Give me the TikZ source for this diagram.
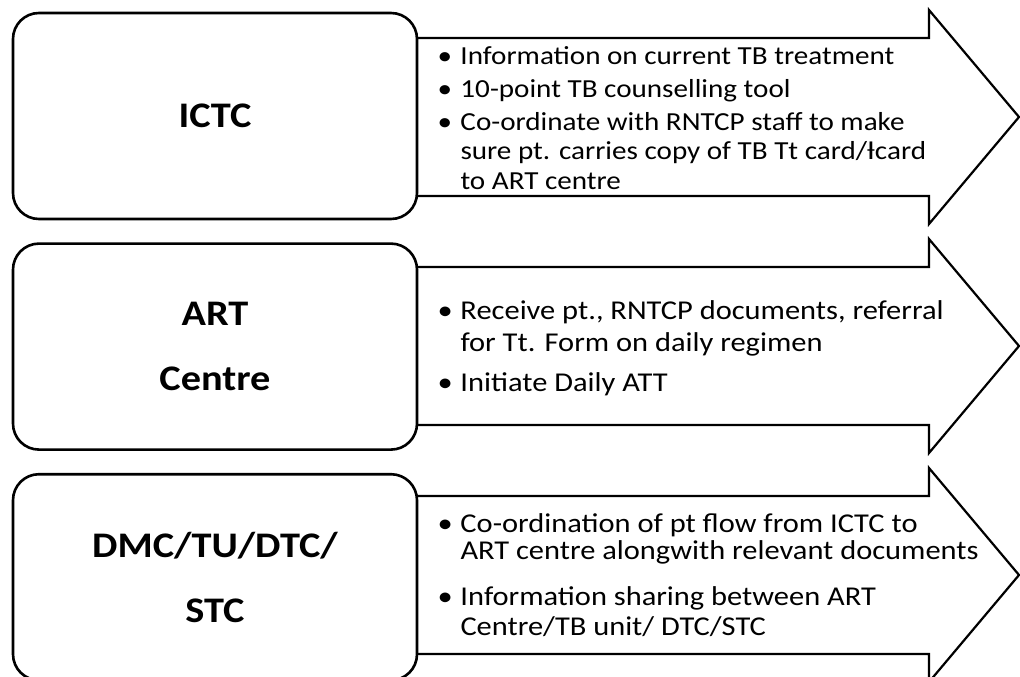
\documentclass[tikz,border=0pt]{standalone}
\usepackage{fontspec}
\setmainfont{Carlito}[FakeStretch=1.12]
\usetikzlibrary{positioning}

\tikzset{
  centrebox/.style={draw, line width=2.6pt, rounded corners=26pt, fill=white,
    minimum width=404pt, minimum height=206pt, align=center,
    font=\fontsize{36}{65}\selectfont\bfseries},
  flowarrow/.style={draw, line width=2.2pt, fill=white, line join=miter},
  tasklist/.style={anchor=west, align=left, inner sep=0pt,
    font=\fontsize{27.2}{30}\selectfont},
}
\newcommand\pitem[1]{\makebox[23pt][l]{\textbullet}#1}
\newcommand\pcont{\hspace*{23pt}}

\begin{document}
\begin{tikzpicture}[x=1pt,y=-1pt]
  \useasboundingbox (0,0) rectangle (1020,677);
  % arrows first, the boxes hide their tails
  \foreach \yc in {117,346,575}
    \draw[flowarrow] (400,\yc-79) -- (929,\yc-79) -- (929,\yc-107)
      -- (1019,\yc) -- (929,\yc+107) -- (929,\yc+79) -- (400,\yc+79) -- cycle;

  \node[centrebox] (ictc) at (215,116) {ICTC};
  \node[centrebox, below=22pt of ictc] (art) {ART\\Centre};
  \node[centrebox, below=22pt of art] (dmc) {DMC/TU/DTC/\\STC};

  \node[tasklist, right=19pt of ictc, yshift=-2pt, font=\fontsize{26}{29.5}\selectfont] (ictcjobs) {%
    \pitem{Information on current TB treatment}\\[3.5pt]
    \pitem{10-point TB counselling tool}\\[3.5pt]
    \pitem{Co-ordinate with RNTCP staff to make}\\
    \pcont sure pt. carries copy of TB Tt card/Ɨcard\\
    \pcont to ART centre};
  \node[tasklist, right=19pt of art, yshift=-2pt] (artjobs) {%
    \pitem{Receive pt., RNTCP documents, referral}\\[2pt]
    \pcont for Tt. Form on daily regimen\\[10pt]
    \pitem{Initiate Daily ATT}};
  \node[tasklist, right=19pt of dmc, yshift=2pt] (dmcjobs) {%
    \pitem{Co-ordination of pt flow from ICTC to}\\[-3pt]
    \pcont ART centre alongwith relevant documents\\[16pt]
    \pitem{Information sharing between ART}\\
    \pcont Centre/TB unit/ DTC/STC};
\end{tikzpicture}
\end{document}
